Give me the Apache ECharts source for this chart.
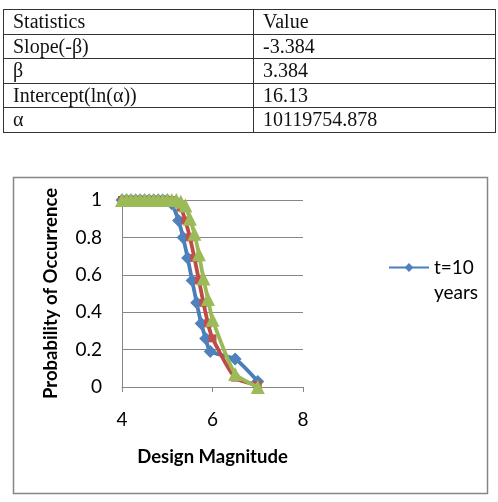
<!DOCTYPE html>
<html>
<head>
<meta charset="utf-8">
<script src="https://cdn.jsdelivr.net/npm/echarts@6/dist/echarts.min.js"></script>
<style>
  html, body { margin: 0; padding: 0; background: #fff; }
  #wrap { position: relative; width: 498px; height: 502px; overflow: hidden; }
  #chart { position: absolute; left: 0; top: 0; width: 498px; height: 502px; }
  table.stats {
    position: absolute; left: 3px; top: 9px; width: 493px;
    border-collapse: collapse;
    font-family: "Liberation Serif", "DejaVu Serif", serif; font-size: 20px; color: #111;
  }
  table.stats td {
    border: 1.5px solid #333; height: 23.5px; padding: 0 0 0 9px; line-height: 23px;
  }
  table.stats td:first-child { width: 240px; }
</style>
</head>
<body>
<div id="wrap">
  <div id="chart"></div>
  <table class="stats" id="stats"></table>
</div>
<script>
// table rows
const statNames = ["Statistics", "Slope(-β)", "β", "Intercept(ln(α))", "α"];
const statValues = ["Value", "-3.384", "3.384", "16.13", "10119754.878"];

// magnitude / probability
const blueM = [4.0, 4.1, 4.2, 4.3, 4.4, 4.5, 4.6, 4.7, 4.8, 4.9, 5.0, 5.1, 5.25, 5.35, 5.45, 5.55, 5.65, 5.75, 5.85, 5.95, 6.5, 7.0];
const blueP = [1, 1, 1, 1, 1, 1, 1, 1, 1, 1, 1, 0.98, 0.89, 0.80, 0.69, 0.57, 0.45, 0.34, 0.26, 0.19, 0.15, 0.03];

const redM = [4.0, 4.1, 4.2, 4.3, 4.4, 4.5, 4.6, 4.7, 4.8, 4.9, 5.0, 5.1, 5.2, 5.3, 5.4, 5.5, 5.6, 5.7, 5.8, 5.9, 6.0, 6.5, 7.0];
const redP = [1, 1, 1, 1, 1, 1, 1, 1, 1, 1, 1, 1, 0.99, 0.96, 0.89, 0.80, 0.69, 0.57, 0.45, 0.34, 0.26, 0.05, 0.01];

const greenM = [4.0, 4.1, 4.2, 4.3, 4.4, 4.5, 4.6, 4.7, 4.8, 4.9, 5.0, 5.1, 5.2, 5.3, 5.4, 5.5, 5.6, 5.7, 5.8, 5.9, 6.0, 6.5, 7.0];
const greenP = [1, 1, 1, 1, 1, 1, 1, 1, 1, 1, 1, 1, 1, 0.99, 0.97, 0.90, 0.82, 0.71, 0.58, 0.47, 0.36, 0.07, 0.0];

const xTicks = [4, 6, 8];
const yTicks = [0, 0.2, 0.4, 0.6, 0.8, 1];

let html = "";
for (let i = 0; i < statNames.length; i++) {
  html += "<tr><td>" + statNames[i] + "</td><td>" + statValues[i] + "</td></tr>";
}
document.getElementById("stats").innerHTML = html;

function pairs(xs, ys) {
  return xs.map((x, i) => [x, ys[i]]);
}

const font = "Lato, 'Open Sans', sans-serif";
const grey = "#868686";

const chart = echarts.init(document.getElementById("chart"));
chart.setOption({
  animation: false,
  graphic: [
    {
      type: "rect",
      shape: { x: 13.5, y: 177.5, width: 474, height: 316 },
      style: { fill: "#fff", stroke: grey, lineWidth: 1.5 },
      z: -10,
    },
  ],
  grid: { left: 122, top: 200, width: 181, height: 187 },
  legend: {
    data: ["t=10 years"],
    left: 388,
    top: 230,
    padding: 0,
    itemWidth: 40,
    itemHeight: 11,
    itemGap: 3,
    // blank first line keeps "t=10" level with the marker
    formatter: () => " \nt=10\nyears",
    textStyle: { fontFamily: font, fontSize: 19, color: "#000", lineHeight: 25 },
  },
  xAxis: {
    type: "value",
    min: xTicks[0],
    max: xTicks[xTicks.length - 1],
    interval: 2,
    name: "Design Magnitude",
    nameLocation: "middle",
    nameGap: 61,
    nameTextStyle: { fontFamily: font, fontSize: 18.5, fontWeight: "bold", color: "#000" },
    axisLine: { lineStyle: { color: grey, width: 1 } },
    axisTick: { show: true, length: 5, lineStyle: { color: grey } },
    splitLine: { show: false },
    axisLabel: { fontFamily: font, fontSize: 19, color: "#000", margin: 23 },
  },
  yAxis: {
    type: "value",
    min: yTicks[0],
    max: yTicks[yTicks.length - 1],
    interval: 0.2,
    name: "Probability of Occurrence",
    nameLocation: "middle",
    nameGap: 61,
    nameTextStyle: { fontFamily: font, fontSize: 18.5, fontWeight: "bold", color: "#000" },
    axisLine: { show: true, lineStyle: { color: grey, width: 1 } },
    axisTick: { show: false },
    splitLine: { lineStyle: { color: grey, width: 1 } },
    axisLabel: { fontFamily: font, fontSize: 19, color: "#000", margin: 20 },
  },
  series: [
    {
      name: "t=10 years",
      type: "line",
      data: pairs(blueM, blueP),
      smooth: 0.2,
      symbol: "diamond",
      symbolSize: 13,
      lineStyle: { color: "#4A7EBB", width: 3.8 },
      itemStyle: { color: "#4F81BD" },
      z: 2,
    },
    {
      name: "t=20 years",
      type: "line",
      data: pairs(redM, redP),
      smooth: 0.2,
      symbol: "rect",
      symbolSize: 8,
      lineStyle: { color: "#BE4B48", width: 3.8 },
      itemStyle: { color: "#C0504D" },
      z: 3,
    },
    {
      name: "t=30 years",
      type: "line",
      data: pairs(greenM, greenP),
      smooth: 0.2,
      symbol: "triangle",
      symbolSize: 14,
      lineStyle: { color: "#98B954", width: 3.8 },
      itemStyle: { color: "#9BBB59" },
      z: 4,
    },
  ],
});
</script>
</body>
</html>
